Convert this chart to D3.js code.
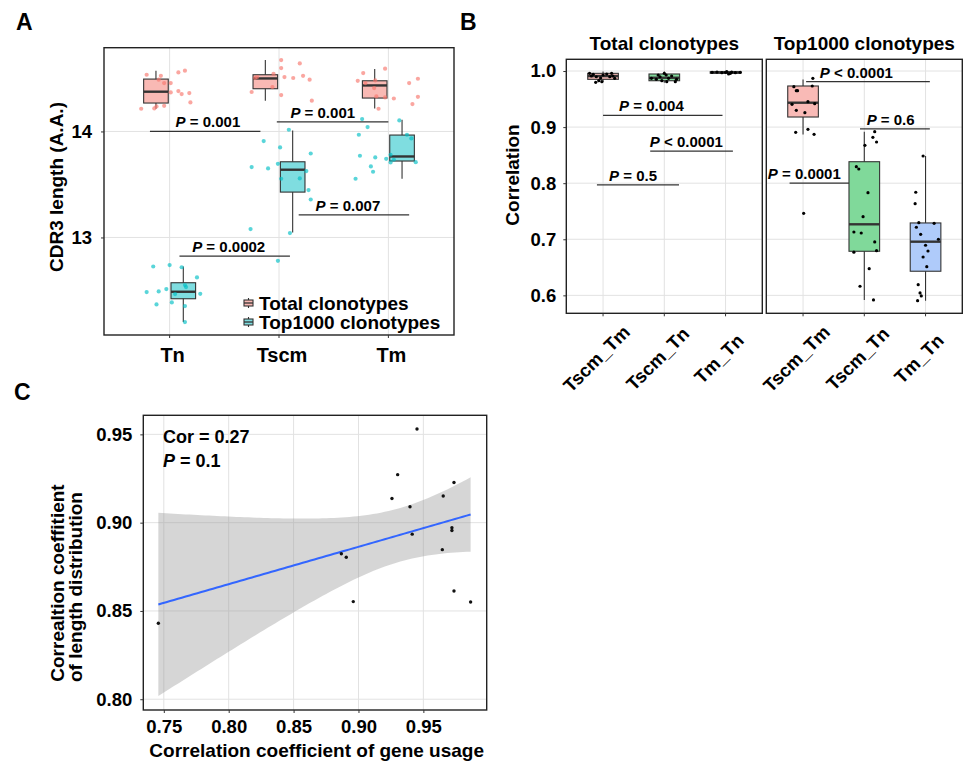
<!DOCTYPE html>
<html lang="en">
<head>
<meta charset="UTF-8" />
<title>CDR3 length and repertoire correlation</title>
<script src="https://cdn.jsdelivr.net/npm/d3@7"></script>
<style>
  body { margin: 0; background: #fff; }
  svg text { font-family: "Liberation Sans", Arial, sans-serif; font-weight: bold; fill: #000; }
  .grid { stroke: #e2e2e2; stroke-width: 1; }
  .frame { fill: none; stroke: #222; stroke-width: 1.4; }
  .bracket { stroke: #333; stroke-width: 1.2; }
  .whisker { stroke: #333; stroke-width: 1.1; }
  .box { stroke: #333; stroke-width: 1.1; }
  .median { stroke: #333; stroke-width: 2.4; }
  .axis path { display: none; }
  .axis line { stroke: #333; }
</style>
</head>
<body>
<script>
// ---------- panel A : CDR3 length ----------
var cdrGroups = ["Tn", "Tscm", "Tm"];
var cdrTicks = [13, 14];
var seriesNames = ["Total clonotypes", "Top1000 clonotypes"];
// [min, q1, median, q3, max]
var totalBox = [[14.214, 14.268, 14.375, 14.494, 14.573],
                [14.290, 14.403, 14.500, 14.535, 14.674],
                [14.217, 14.315, 14.434, 14.478, 14.589]];
var topBox = [[12.202, 12.422, 12.488, 12.573, 12.726],
              [13.047, 13.428, 13.639, 13.714, 14.009],
              [13.554, 13.721, 13.764, 13.966, 14.110]];
// samples: [jitter, value]
var totalPts = [
  [[-0.26,14.214],[-0.21,14.535],[-0.14,14.217],[-0.12,14.236],[-0.08,14.525],[-0.10,14.488],[-0.05,14.456],[0.01,14.456],
   [-0.05,14.242],[0.01,14.368],[0.08,14.557],[0.14,14.573],[0.08,14.381],[0.11,14.353],[0.18,14.362],[0.19,14.274]],
  [[-0.25,14.372],[-0.22,14.504],[-0.20,14.513],[-0.05,14.544],[-0.06,14.419],[0.02,14.673],[0.02,14.598],[0.05,14.513],
   [0.02,14.343],[0.13,14.504],[0.19,14.642],[0.22,14.525],[0.28,14.488],[0.30,14.290]],
  [[-0.28,14.478],[-0.23,14.551],[-0.21,14.456],[-0.13,14.409],[-0.12,14.481],[-0.09,14.214],[-0.11,14.330],[-0.03,14.592],
   [-0.03,14.321],[0.05,14.311],[0.19,14.456],[0.22,14.258],[0.27,14.327],[0.27,14.497]]
];
var topPts = [
  [[-0.21,12.485],[-0.15,12.726],[-0.12,12.368],[-0.10,12.491],[-0.03,12.513],[0.00,12.740],[0.02,12.387],[0.05,12.466],
   [0.11,12.719],[0.14,12.551],[0.14,12.353],[0.15,12.532],[0.14,12.202],[0.25,12.623],[0.28,12.468]],
  [[-0.26,13.079],[-0.25,13.664],[-0.14,13.909],[-0.10,13.651],[-0.01,13.695],[0.01,13.849],[-0.01,12.780],[0.09,14.016],
   [0.10,13.041],[0.19,13.557],[0.25,13.626],[0.27,13.447],[0.29,13.792],[0.29,13.358],[0.02,13.554]],
  [[-0.30,13.554],[-0.27,13.969],[-0.26,13.771],[-0.24,14.117],[-0.19,14.041],[-0.16,13.670],[-0.14,13.620],[-0.12,13.755],
   [-0.02,13.742],[0.02,13.780],[0.02,13.708],[0.05,13.733],[0.10,14.104],[0.17,13.969],[0.21,13.934],[0.25,13.710]]
];
var cdrTests = [
  {x1: -0.18, x2: 0.83, lx: 0.35, y: 14.0, sign: "=", p: "0.001"},
  {x1: 0.98, x2: 2.0, lx: 1.40, y: 14.09, sign: "=", p: "0.001"},
  {x1: 1.18, x2: 2.19, lx: 1.63, y: 13.214, sign: "=", p: "0.007"},
  {x1: 0.09, x2: 1.10, lx: 0.54, y: 12.824, sign: "=", p: "0.0002"}
];

// ---------- panel B : correlation between subsets ----------
var pairGroups = ["Tscm_Tm", "Tscm_Tn", "Tm_Tn"];
var corTicks = [0.6, 0.7, 0.8, 0.9, 1.0];
var facetNames = ["Total clonotypes", "Top1000 clonotypes"];
var corTotalBox = [[0.980, 0.9852, 0.991, 0.9959, 0.999],
                   [0.979, 0.9827, 0.988, 0.9947, 0.999],
                   [0.9945, 0.996, 0.9975, 0.9988, 1.0]];
var corTopBox = [[0.887, 0.918, 0.9435, 0.9733, 0.985],
                 [0.5918, 0.6786, 0.7267, 0.8383, 0.8918],
                 [0.5906, 0.643, 0.6957, 0.7291, 0.8485]];
var corTotalPts = [
  [[-0.22,0.9959],[-0.19,0.9911],[-0.16,0.9941],[-0.12,0.9798],[-0.11,0.9898],[-0.07,0.9827],[-0.02,0.981],[0.00,0.9929],
   [0.06,0.9947],[0.11,0.9898],[0.14,0.9959],[0.16,0.9911],[0.19,0.987],[-0.04,0.9875]],
  [[-0.21,0.987],[-0.13,0.9852],[-0.07,0.9898],[-0.04,0.9827],[0.00,0.9959],[0.03,0.9929],[0.04,0.981],[0.07,0.987],
   [0.12,0.9911],[0.18,0.981],[0.20,0.9852],[-0.10,0.9929]],
  [[-0.22,0.9977],[-0.14,0.9982],[-0.06,0.997],[0.00,0.9977],[0.05,0.9947],[0.10,0.9982],[0.16,0.997],[0.24,0.9977],
   [0.02,0.9988],[0.08,0.9959]]
];
var corTopPts = [
  [[-0.12,0.8907],[0.08,0.896],[0.18,0.8872],[-0.15,0.972],[-0.11,0.965],[0.15,0.9733],[-0.18,0.9406],[-0.11,0.93],
   [0.03,0.9257],[0.08,0.9453],[0.19,0.9417],[0.16,0.987],[0.01,0.7463],[-0.09,0.965]],
  [[-0.13,0.8294],[-0.09,0.8253],[0.06,0.783],[-0.02,0.7403],[-0.17,0.713],[-0.05,0.7112],[0.17,0.6952],[0.20,0.6797],
   [0.01,0.8675],[0.14,0.8818],[0.20,0.8734],[0.17,0.8918],[0.08,0.6476],[-0.07,0.6162],[0.15,0.5918],[-0.17,0.677]],
  [[-0.04,0.8485],[-0.16,0.7838],[-0.17,0.7635],[-0.11,0.7296],[0.14,0.7285],[-0.15,0.7214],[-0.08,0.7089],[0.21,0.70],
   [0.00,0.6893],[0.04,0.6791],[-0.04,0.6684],[0.02,0.6512],[-0.12,0.6191],[-0.09,0.6043],[-0.07,0.599],[-0.13,0.5906]]
];
var corTotalTests = [
  {x1: 0.0, x2: 1.95, lx: 0.79, y: 0.921, sign: "=", p: "0.004"},
  {x1: 0.77, x2: 2.12, lx: 1.36, y: 0.857, sign: "<", p: "0.0001"},
  {x1: -0.10, x2: 1.24, lx: 0.49, y: 0.797, sign: "=", p: "0.5"}
];
var corTopTests = [
  {x1: 0.05, x2: 2.07, lx: 0.87, y: 0.981, sign: "<", p: "0.0001"},
  {x1: 0.93, x2: 2.07, lx: 1.43, y: 0.897, sign: "=", p: "0.6"},
  {x1: -0.22, x2: 0.75, lx: 0.02, y: 0.80, sign: "=", p: "0.0001"}
];

// ---------- panel C : gene usage vs length distribution ----------
var geneCor = [0.7458, 0.8868, 0.8906, 0.896, 0.9258, 0.9302, 0.9397, 0.9414, 0.9451, 0.9646, 0.9653, 0.972, 0.972, 0.9736, 0.9736, 0.9864];
var lenCor  = [0.843, 0.8824, 0.8804, 0.8553, 0.9137, 0.9272, 0.909, 0.8935, 0.953, 0.8847, 0.9151, 0.8971, 0.8956, 0.9227, 0.8613, 0.8551];
var geneTicks = [0.75, 0.80, 0.85, 0.90, 0.95];
var lenTicks = [0.80, 0.85, 0.90, 0.95];
var corText = "Cor = 0.27";
var pText = "0.1";

var svg = d3.select("body").append("svg")
  .attr("width", 965).attr("height", 763);

function panelLetter(t, x, y) {
  svg.append("text").attr("x", x).attr("y", y).attr("font-size", 23).text(t);
}

function drawBox(g, cx, w, s, fill) {
  g.append("line").attr("class", "whisker").attr("x1", cx).attr("x2", cx).attr("y1", s[0]).attr("y2", s[4]);
  g.append("rect").attr("class", "box").attr("x", cx - w / 2).attr("width", w)
    .attr("y", s[3]).attr("height", s[1] - s[3]).attr("fill", fill);
  g.append("line").attr("class", "median").attr("x1", cx - w / 2).attr("x2", cx + w / 2).attr("y1", s[2]).attr("y2", s[2]);
}

function drawTest(g, xi, y, t) {
  g.append("line").attr("class", "bracket")
    .attr("x1", xi(t.x1)).attr("x2", xi(t.x2)).attr("y1", y(t.y)).attr("y2", y(t.y));
  var tx = g.append("text").attr("x", xi(t.lx)).attr("y", y(t.y) - 4)
    .attr("text-anchor", "middle").attr("font-size", 15);
  tx.append("tspan").attr("font-style", "italic").text("P");
  tx.append("tspan").text(" " + t.sign + " " + t.p);
}

// ================= A =================
panelLetter("A", 16, 30);
var aL = 104, aR = 454, aT = 47.7, aB = 335;
var xA = d3.scaleBand().domain(cdrGroups).range([aL, aR]).paddingInner(0).paddingOuter(0.1);
var stepA = xA.step();
var xiA = d3.scaleLinear().domain([0, 1]).range([xA(cdrGroups[0]) + xA.bandwidth() / 2, xA(cdrGroups[1]) + xA.bandwidth() / 2]);
var yA = d3.scaleLinear().domain([12.08, 14.79]).range([aB, aT]);
var gA = svg.append("g");

gA.selectAll(".gy").data(cdrTicks).enter().append("line").attr("class", "grid")
  .attr("x1", aL).attr("x2", aR).attr("y1", function(d) { return yA(d); }).attr("y2", function(d) { return yA(d); });
gA.selectAll(".gx").data(cdrGroups).enter().append("line").attr("class", "grid")
  .attr("y1", aT).attr("y2", aB)
  .attr("x1", function(d, i) { return xiA(i); }).attr("x2", function(d, i) { return xiA(i); });

var boxW = 0.225 * stepA, dodge = 0.125 * stepA;
[totalBox, topBox].forEach(function(stats, si) {
  var fill = si === 0 ? "#f9b9b4" : "#7fdde0";
  stats.forEach(function(s, i) {
    drawBox(gA, xiA(i) + (si === 0 ? -dodge : dodge), boxW, s.map(yA), fill);
  });
});
[totalPts, topPts].forEach(function(pts, si) {
  pts.forEach(function(grp, i) {
    gA.selectAll(null).data(grp).enter().append("circle")
      .attr("cx", function(d) { return xiA(i + d[0]); })
      .attr("cy", function(d) { return yA(d[1]); })
      .attr("r", 2.1)
      .attr("fill", si === 0 ? "#f8766d" : "#00bfc4")
      .attr("fill-opacity", 0.65);
  });
});
cdrTests.forEach(function(t) { drawTest(gA, xiA, yA, t); });

gA.append("rect").attr("class", "frame").attr("x", aL).attr("y", aT).attr("width", aR - aL).attr("height", aB - aT);

gA.append("g").attr("class", "axis").attr("transform", "translate(" + aL + ",0)")
  .call(d3.axisLeft(yA).tickValues(cdrTicks).tickSize(3).tickPadding(9).tickFormat(d3.format("d")))
  .selectAll("text").attr("font-size", 18.5);
gA.append("g").attr("class", "axis").attr("transform", "translate(0," + aB + ")")
  .call(d3.axisBottom(xA).tickSize(3).tickPadding(10))
  .selectAll("text").attr("font-size", 20).attr("dx", 3);

svg.append("text").attr("transform", "translate(63,187) rotate(-90)")
  .attr("text-anchor", "middle").attr("font-size", 19).text("CDR3 length (A.A.)");

// legend
var legY = [303, 322];
seriesNames.forEach(function(name, i) {
  var cy = legY[i], cx = 248.5;
  var lg = gA.append("g");
  lg.append("line").attr("class", "whisker").attr("x1", cx).attr("x2", cx).attr("y1", cy - 5).attr("y2", cy + 5);
  lg.append("rect").attr("class", "box").attr("x", cx - 4.5).attr("y", cy - 3).attr("width", 9).attr("height", 6)
    .attr("fill", i === 0 ? "#f9b9b4" : "#7fdde0");
  lg.append("line").attr("stroke", "#333").attr("stroke-width", 1.3).attr("x1", cx - 4.5).attr("x2", cx + 4.5).attr("y1", cy).attr("y2", cy);
  lg.append("text").attr("x", 259).attr("y", cy + 6.5).attr("font-size", 19).text(name);
});

// ================= B =================
panelLetter("B", 460, 30);
var bT = 59.3, bB = 313.3;
var yB = d3.scaleLinear().domain([0.568, 1.0209]).range([bB, bT]);
var facets = [
  {name: facetNames[0], l: 566.3, r: 762.3, box: corTotalBox, pts: corTotalPts, tests: corTotalTests},
  {name: facetNames[1], l: 766.3, r: 962.3, box: corTopBox, pts: corTopPts, tests: corTopTests}
];
var pairFill = ["#f9bab6", "#80d99a", "#afcbfa"];

facets.forEach(function(f) {
  var g = svg.append("g");
  var xb = d3.scaleBand().domain(pairGroups).range([f.l, f.r]).paddingInner(0).paddingOuter(0.1);
  var step = xb.step();
  var xi = d3.scaleLinear().domain([0, 1]).range([xb(pairGroups[0]) + xb.bandwidth() / 2, xb(pairGroups[1]) + xb.bandwidth() / 2]);

  g.selectAll(".gy").data(corTicks).enter().append("line").attr("class", "grid")
    .attr("x1", f.l).attr("x2", f.r).attr("y1", function(d) { return yB(d); }).attr("y2", function(d) { return yB(d); });
  g.selectAll(".gx").data(pairGroups).enter().append("line").attr("class", "grid")
    .attr("y1", bT).attr("y2", bB)
    .attr("x1", function(d, i) { return xi(i); }).attr("x2", function(d, i) { return xi(i); });

  f.box.forEach(function(s, i) { drawBox(g, xi(i), 0.5 * step, s.map(yB), pairFill[i]); });
  f.pts.forEach(function(grp, i) {
    g.selectAll(null).data(grp).enter().append("circle")
      .attr("cx", function(d) { return xi(i + d[0]); })
      .attr("cy", function(d) { return yB(d[1]); })
      .attr("r", 1.6).attr("fill", "#000");
  });
  f.tests.forEach(function(t) { drawTest(g, xi, yB, t); });

  g.append("rect").attr("class", "frame").attr("stroke", "#000").attr("stroke-width", 1.6)
    .attr("x", f.l).attr("y", bT).attr("width", f.r - f.l).attr("height", bB - bT);

  g.selectAll(".tk").data(pairGroups).enter().append("line").attr("stroke", "#333")
    .attr("x1", function(d, i) { return xi(i); }).attr("x2", function(d, i) { return xi(i); })
    .attr("y1", bB).attr("y2", bB + 3);
  g.selectAll(".lb").data(pairGroups).enter().append("text")
    .attr("text-anchor", "middle").attr("font-size", 18.5)
    .attr("transform", function(d, i) { return "translate(" + (xi(i) - 2) + "," + (bB + 50) + ") rotate(-45)"; })
    .text(function(d) { return d; });

  g.append("text").attr("x", (f.l + f.r) / 2).attr("y", 50).attr("text-anchor", "middle")
    .attr("font-size", 19).text(f.name);
});

svg.append("g").attr("class", "axis").attr("transform", "translate(566.3,0)")
  .call(d3.axisLeft(yB).tickValues(corTicks).tickSize(3).tickPadding(7).tickFormat(d3.format(".1f")))
  .selectAll("text").attr("font-size", 18.5);
svg.append("text").attr("transform", "translate(519,175) rotate(-90)")
  .attr("text-anchor", "middle").attr("font-size", 19).text("Correlation");

// ================= C =================
panelLetter("C", 14, 400);
var cL = 143.3, cR = 486.7, cT = 415.3, cB = 710;
var xC = d3.scaleLinear().domain([0.7342, 0.9988]).range([cL, cR]);
var yC = d3.scaleLinear().domain([0.7939, 0.9608]).range([cB, cT]);
var gC = svg.append("g");

gC.selectAll(".gy").data(lenTicks).enter().append("line").attr("class", "grid")
  .attr("x1", cL).attr("x2", cR).attr("y1", function(d) { return yC(d); }).attr("y2", function(d) { return yC(d); });
gC.selectAll(".gx").data(geneTicks).enter().append("line").attr("class", "grid")
  .attr("y1", cT).attr("y2", cB).attr("x1", function(d) { return xC(d); }).attr("x2", function(d) { return xC(d); });

// linear fit with 95% confidence band
var n = geneCor.length;
var mx = d3.mean(geneCor), my = d3.mean(lenCor);
var sxx = d3.sum(geneCor, function(v) { return (v - mx) * (v - mx); });
var sxy = d3.sum(geneCor, function(v, i) { return (v - mx) * (lenCor[i] - my); });
var slope = sxy / sxx, icpt = my - slope * mx;
var sse = d3.sum(geneCor, function(v, i) { var r = lenCor[i] - (icpt + slope * v); return r * r; });
var se = Math.sqrt(sse / (n - 2));
var tq = 2.1448; // t(0.975, 14)
var xExt = d3.extent(geneCor);
var fit = d3.range(0, 81).map(function(k) {
  var xv = xExt[0] + (xExt[1] - xExt[0]) * k / 80;
  var yv = icpt + slope * xv;
  var h = tq * se * Math.sqrt(1 / n + (xv - mx) * (xv - mx) / sxx);
  return {x: xv, y: yv, lo: yv - h, hi: yv + h};
});
gC.append("path").datum(fit).attr("fill", "#999").attr("fill-opacity", 0.4)
  .attr("d", d3.area().x(function(d) { return xC(d.x); }).y0(function(d) { return yC(d.lo); }).y1(function(d) { return yC(d.hi); }));
gC.append("path").datum(fit).attr("fill", "none").attr("stroke", "#3366ff").attr("stroke-width", 2)
  .attr("d", d3.line().x(function(d) { return xC(d.x); }).y(function(d) { return yC(d.y); }));

gC.selectAll(null).data(geneCor).enter().append("circle")
  .attr("cx", function(d) { return xC(d); })
  .attr("cy", function(d, i) { return yC(lenCor[i]); })
  .attr("r", 1.7).attr("fill", "#111");

gC.append("rect").attr("class", "frame").attr("x", cL).attr("y", cT).attr("width", cR - cL).attr("height", cB - cT);

gC.append("text").attr("x", 163).attr("y", 442.7).attr("font-size", 18).text(corText);
var pt = gC.append("text").attr("x", 163).attr("y", 466.7).attr("font-size", 18);
pt.append("tspan").attr("font-style", "italic").text("P");
pt.append("tspan").text(" = " + pText);

gC.append("g").attr("class", "axis").attr("transform", "translate(" + cL + ",0)")
  .call(d3.axisLeft(yC).tickValues(lenTicks).tickSize(3).tickPadding(8).tickFormat(d3.format(".2f")))
  .selectAll("text").attr("font-size", 18.5);
gC.append("g").attr("class", "axis").attr("transform", "translate(0," + cB + ")")
  .call(d3.axisBottom(xC).tickValues(geneTicks).tickSize(3).tickPadding(7).tickFormat(d3.format(".2f")))
  .selectAll("text").attr("font-size", 18.5);

svg.append("text").attr("x", 316.7).attr("y", 757).attr("text-anchor", "middle")
  .attr("font-size", 19).text("Correlation coefficient of gene usage");
svg.append("text").attr("transform", "translate(64,583) rotate(-90)")
  .attr("text-anchor", "middle").attr("font-size", 19).text("Correaltion coeffitient");
svg.append("text").attr("transform", "translate(82,587) rotate(-90)")
  .attr("text-anchor", "middle").attr("font-size", 19).text("of length distribution");
</script>
</body>
</html>
